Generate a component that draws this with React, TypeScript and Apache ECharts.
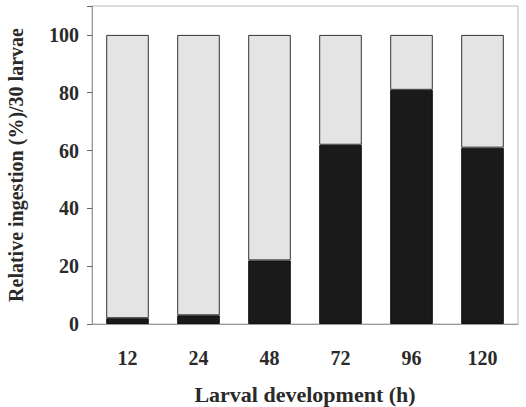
import React, { useEffect, useRef } from "react";
import * as echarts from "echarts";

const categories = ["12", "24", "48", "72", "96", "120"];
const ingested = [2, 3, 22, 62, 81, 61];
const total = 100;
const notIngested = ingested.map((v) => total - v);
const yTicks = [0, 20, 40, 60, 80, 100];

export default function App() {
  const ref = useRef<HTMLDivElement>(null);
  useEffect(() => {
    const chart = echarts.init(ref.current!, null, { renderer: "svg" });
    const font = "'Liberation Serif', 'Times New Roman', serif";
    chart.setOption({
      animation: false,
      backgroundColor: "#fff",
      grid: {
        left: 92,
        right: 8,
        top: 6,
        bottom: 83,
        outerBoundsMode: "none",
        containLabel: false,
        show: true,
        borderColor: "#b8b8b8",
        borderWidth: 1,
      },
      xAxis: {
        type: "category",
        data: categories,
        name: "Larval development (h)",
        nameLocation: "middle",
        nameGap: 59,
        nameTextStyle: { fontFamily: font, fontWeight: "bold", fontSize: 22, color: "#2a2a2a" },
        axisLine: { lineStyle: { color: "#999" } },
        axisTick: { alignWithLabel: true, length: 5, lineStyle: { color: "#666" } },
        axisLabel: { fontFamily: font, fontWeight: "bold", fontSize: 20, color: "#2a2a2a", margin: 24 },
      },
      yAxis: {
        type: "value",
        min: 0,
        max: 110,
        interval: 20,
        name: "Relative ingestion (%)/30 larvae",
        nameLocation: "middle",
        nameGap: 66,
        nameTextStyle: { fontFamily: font, fontWeight: "bold", fontSize: 20, color: "#2a2a2a" },
        axisLine: { show: true, lineStyle: { color: "#999" } },
        axisTick: { show: true, length: 5, lineStyle: { color: "#666" } },
        splitLine: { show: false },
        axisLabel: {
          fontFamily: font,
          fontWeight: "bold",
          fontSize: 20,
          color: "#2a2a2a",
          margin: 13,
          formatter: (v: number) => (yTicks.includes(v) ? String(v) : ""),
        },
      },
      series: [
        {
          type: "bar",
          stack: "a",
          data: ingested,
          barWidth: "60%",
          itemStyle: { color: "#1a1a1a", borderColor: "#111", borderWidth: 1 },
        },
        {
          type: "bar",
          stack: "a",
          data: notIngested,
          barWidth: "60%",
          itemStyle: { color: "#e4e4e4", borderColor: "#333", borderWidth: 1 },
        },
      ],
    });
    return () => chart.dispose();
  }, []);
  return <div ref={ref} style={{ width: 526, height: 407, position: "absolute", left: 0, top: 0 }} />;
}
